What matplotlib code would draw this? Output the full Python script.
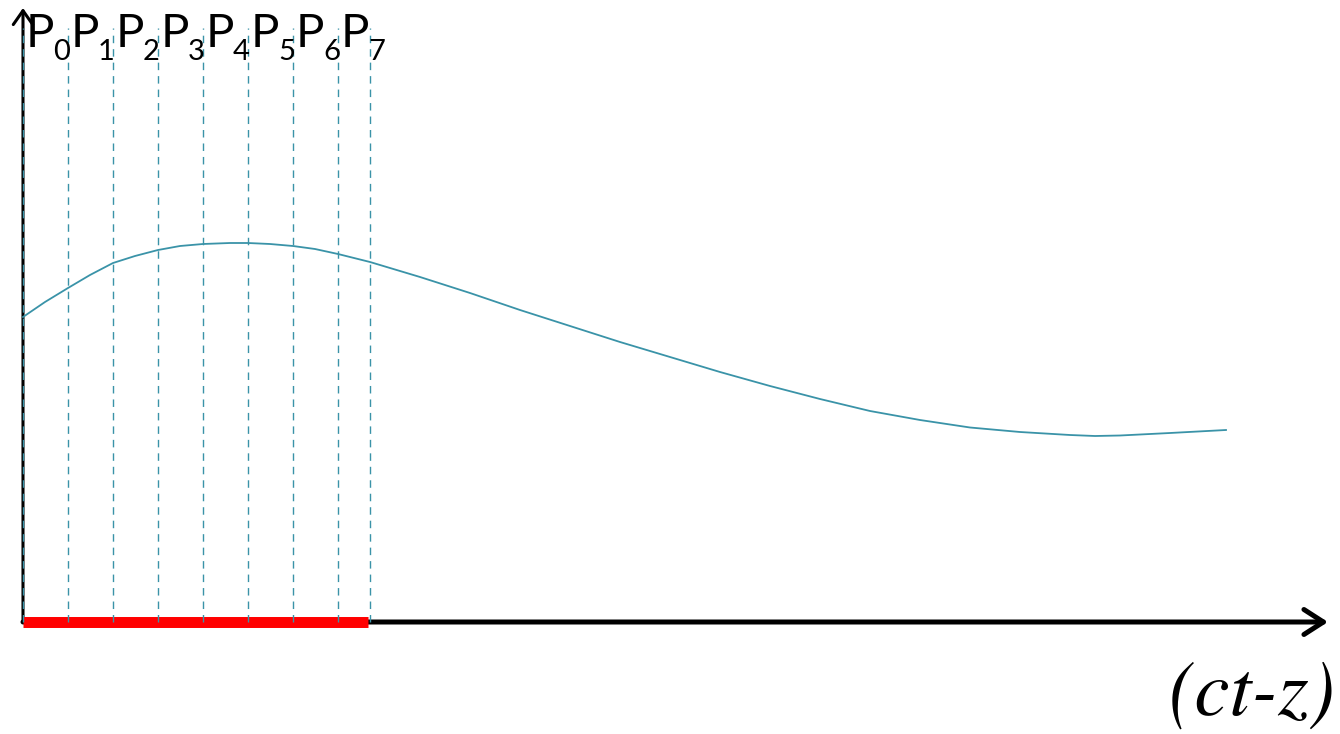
import matplotlib
matplotlib.use("Agg")
import matplotlib.pyplot as plt
from matplotlib.patches import FancyArrowPatch

# Slice positions along (ct - z), measured from the origin
slice_x = [0, 45, 90, 135, 180, 225, 270, 315, 347]
slice_labels = ["P", "P", "P", "P", "P", "P", "P", "P"]
slice_subs = ["0", "1", "2", "3", "4", "5", "6", "7"]

# Bunch extent (red bar) along the axis
bunch_start = 0
bunch_end = 345

# Field profile samples
curve_x = [0, 22, 45, 67, 90, 112, 135, 157, 180, 207, 225, 247, 270, 292,
           315, 347, 397, 447, 497, 547, 597, 647, 697, 747, 797, 847, 897,
           947, 997, 1047, 1072, 1097, 1147, 1203]
curve_y = [305, 320, 334, 347, 359, 366, 372, 376, 378, 379, 379, 378, 376,
           373, 368, 360, 345, 329, 312, 296, 280, 265, 250, 236, 223, 211,
           202, 194.5, 190, 187, 186, 186.5, 189, 192]

teal = "#3a93a8"
plt.rcParams["lines.scale_dashes"] = False

fig = plt.figure(figsize=(13.4, 7.34), dpi=100)
ax = fig.add_axes([0, 0, 1, 1])
ax.set_xlim(-23, 1317)
ax.set_ylim(-112, 622)
ax.axis("off")

# Axes arrows
ax.add_patch(FancyArrowPatch((0, 0), (0, 614), arrowstyle="->,head_length=0.5,head_width=0.35",
                             mutation_scale=20, lw=2.2, color="black", zorder=1,
                             shrinkA=0, shrinkB=0))
ax.add_patch(FancyArrowPatch((0, 0), (1305, 0), arrowstyle="->,head_length=0.7,head_width=0.45",
                             mutation_scale=20, lw=3.6, color="black", zorder=1,
                             shrinkA=0, shrinkB=0))

# Bunch
ax.plot([bunch_start, bunch_end], [0, 0], color="#ff0000", lw=7.9,
        solid_capstyle="butt", zorder=2)

# Slice boundaries
for x in slice_x:
    ax.plot([x, x], [0, 594], color=teal, lw=1.0, dashes=(5.4, 4.3), zorder=3)

# Slice labels
for x, lab, sub in zip(slice_x[:-1], slice_labels, slice_subs):
    ax.text(x + 3, 575, lab, fontsize=34, family="Lato", ha="left",
            va="baseline", color="black", zorder=4)
    ax.text(x + 30, 562, sub, fontsize=21, family="Lato", ha="left",
            va="baseline", color="black", zorder=4)

# Field profile
ax.plot(curve_x, curve_y, color=teal, lw=1.3, zorder=3,
        solid_joinstyle="round")

# Axis label
ax.text(1313, -93, "(ct-z)", fontsize=57, family="STIXGeneral",
        style="italic", ha="right", va="baseline", color="black")

fig.savefig("out.png", dpi=100)
